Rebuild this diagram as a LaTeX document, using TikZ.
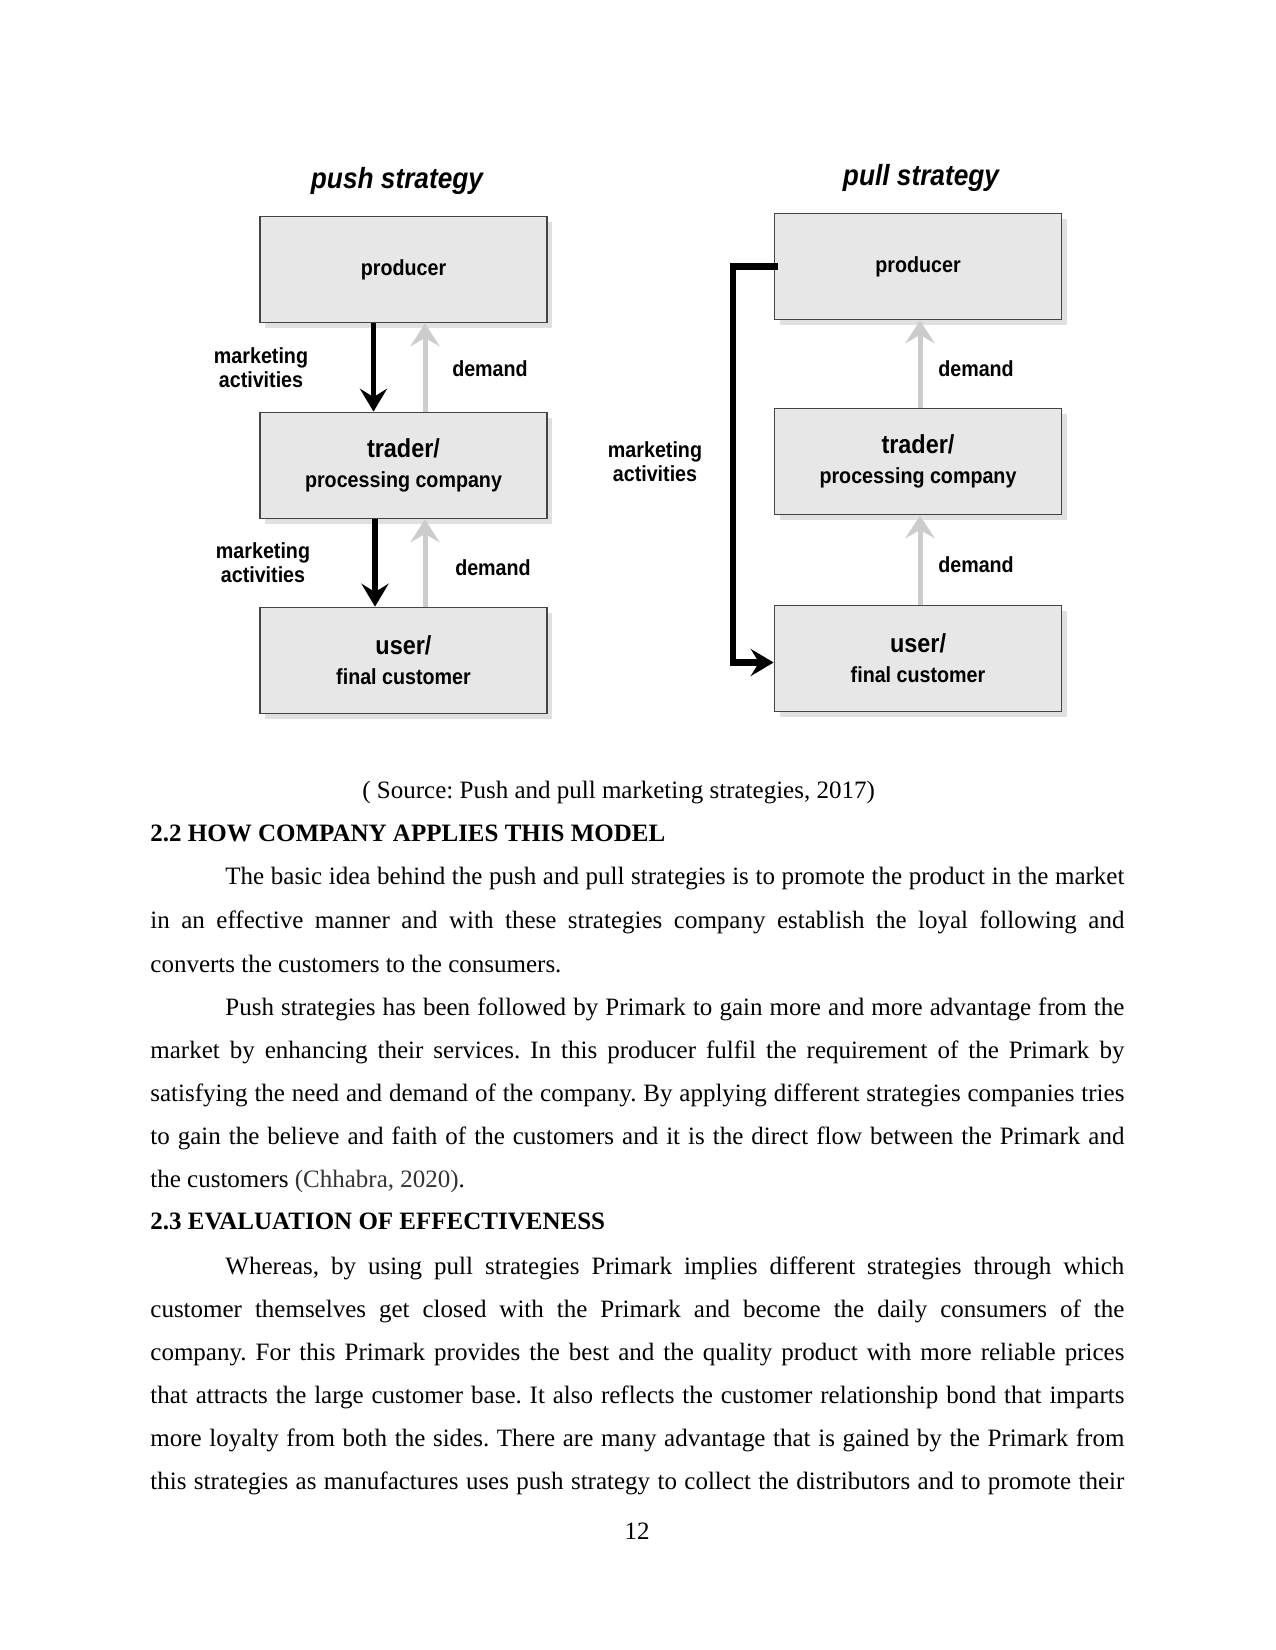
\documentclass[tikz,border=0pt]{standalone}
\usepackage{fontspec}
\setmainfont{Liberation Serif}
\newfontfamily\diagfont[FakeStretch=0.9]{Liberation Sans}
\usetikzlibrary{arrows.meta,shadows,calc}
\frenchspacing

\begin{document}
\begin{tikzpicture}[x=0.48pt,y=0.48pt,yscale=-1,
	stratbox/.style={draw={rgb, 255:red, 68; green, 68; blue, 68 }, line width=0.8pt, fill={rgb, 255:red, 231; green, 231; blue, 231 }, minimum width=137.8pt, minimum height=50.9pt, inner sep=0pt, align=center, font=\diagfont\bfseries\fontsize{10.5}{14.5}\selectfont, drop shadow={shadow xshift=2.5pt, shadow yshift=-2.5pt, opacity=0.12, fill=black}},
	sidelabel/.style={align=center, inner sep=0pt, font=\diagfont\bfseries\fontsize{10.5}{11.5}\selectfont},
	stratitle/.style={inner sep=0pt, font=\diagfont\bfseries\itshape\fontsize{14}{16}\selectfont},
	pushflow/.style={line width=2.7pt, -{Stealth[length=11pt, width=13pt, inset=4pt]}},
	demandflow/.style={draw={rgb, 255:red, 204; green, 204; blue, 204 }, line width=2.4pt, -{Stealth[length=11pt, width=14pt, inset=4pt]}},
	bodytext/.style={anchor=base west, inner sep=0pt, font=\fontsize{12}{14}\selectfont},
	headtext/.style={anchor=base west, inner sep=0pt, font=\bfseries\fontsize{12}{14}\selectfont}]
				%Page
				\path [fill=white] (0,0) rectangle (1275,1650);
				\useasboundingbox (0,0) rectangle (1275,1650);
				
				%Titles
				\node [stratitle] (pushtitle) at (397,181) {push strategy};
				\node [stratitle] (pulltitle) at (921,178) {pull strategy};
				
				%Shape: Push boxes
				\node [stratbox] (pushprod) at (403.5,269.5) {producer};
				\node [stratbox] (pushtrad) at (403.5,465.5) {{\fontsize{12.5}{14.5}\selectfont trader/}\\processing company};
				\node [stratbox] (pushuser) at (403.5,660.5) {{\fontsize{12.5}{14.5}\selectfont user/}\\final customer};
				
				%Shape: Pull boxes
				\node [stratbox] (pullprod) at (918,266.5) {producer};
				\node [stratbox] (pulltrad) at (918,461.5) {{\fontsize{12.5}{14.5}\selectfont trader/}\\processing company};
				\node [stratbox] (pulluser) at (918,658.5) {{\fontsize{12.5}{14.5}\selectfont user/}\\final customer};
				
				%Straight Lines: push
				\draw [pushflow] ($(pushprod.south)+(-30,0)$) -- ($(pushtrad.north)+(-30,0)$);
				\draw [demandflow] ($(pushtrad.north)+(21.5,0)$) -- ($(pushprod.south)+(21.5,0)$);
				\draw [pushflow] ($(pushtrad.south)+(-28.5,0)$) -- ($(pushuser.north)+(-28.5,0)$);
				\draw [demandflow] ($(pushuser.north)+(21.5,0)$) -- ($(pushtrad.south)+(21.5,0)$);
				
				%Straight Lines: pull
				\draw [demandflow] ($(pulltrad.north)+(2,0)$) -- ($(pullprod.south)+(2,0)$);
				\draw [demandflow] ($(pulluser.north)+(2,0)$) -- ($(pulltrad.south)+(2,0)$);
				\draw [pushflow, line width=2.9pt] ($(pullprod.west)+(4,0)$) -- ++(-45,0) |- ($(pulluser.west)+(0,4)$);
				
				%Labels
				\node [sidelabel] (pushmkt1) at (261,368) {marketing\\activities};
				\node [sidelabel] (pushmkt2) at (263,563) {marketing\\activities};
				\node [sidelabel] (pushdem1) at (490,369) {demand};
				\node [sidelabel] (pushdem2) at (493,568) {demand};
				\node [sidelabel] (pullmkt) at (655,462) {marketing\\activities};
				\node [sidelabel] (pulldem1) at (976,369) {demand};
				\node [sidelabel] (pulldem2) at (976,565) {demand};
				
				%Text
				\node [bodytext] (source) at (362,798) {( Source: Push and pull marketing strategies, 2017)};
				\node [headtext] (head22) at (150,841) {2.2 HOW COMPANY APPLIES THIS MODEL};
				\node [bodytext] (l1) at (225,884) {\makebox[431.5pt][s]{The basic idea behind the push and pull strategies is to promote the product in the market}};
				\node [bodytext] (l2) at (150,928) {\makebox[467.5pt][s]{in an effective manner and with these strategies company establish the loyal following and}};
				\node [bodytext] (l3) at (150,972) {converts the customers to the consumers.};
				\node [bodytext] (l4) at (225,1015) {\makebox[431.5pt][s]{Push strategies has been followed by Primark to gain more and more advantage from the}};
				\node [bodytext] (l5) at (150,1058) {\makebox[467.5pt][s]{market by enhancing their services. In this producer fulfil the requirement of the Primark by}};
				\node [bodytext] (l6) at (150,1101) {\makebox[467.5pt][s]{satisfying the need and demand of the company. By applying different strategies companies tries}};
				\node [bodytext] (l7) at (150,1144) {\makebox[467.5pt][s]{to gain the believe and faith of the customers and it is the direct flow between the Primark and}};
				\node [bodytext] (l8) at (150,1187) {the customers {\color{black!80}(Chhabra, 2020)}.};
				\node [headtext] (head23) at (150,1229) {2.3 EVALUATION OF EFFECTIVENESS};
				\node [bodytext] (l9) at (225,1274) {\makebox[431.5pt][s]{Whereas, by using pull strategies Primark implies different strategies through which}};
				\node [bodytext] (l10) at (150,1317) {\makebox[467.5pt][s]{customer themselves get closed with the Primark and become the daily consumers of the}};
				\node [bodytext] (l11) at (150,1360) {\makebox[467.5pt][s]{company. For this Primark provides the best and the quality product with more reliable prices}};
				\node [bodytext] (l12) at (150,1403) {\makebox[467.5pt][s]{that attracts the large customer base. It also reflects the customer relationship bond that imparts}};
				\node [bodytext] (l13) at (150,1446) {\makebox[467.5pt][s]{more loyalty from both the sides. There are many advantage that is gained by the Primark from}};
				\node [bodytext] (l14) at (150,1489) {\makebox[467.5pt][s]{this strategies as manufactures uses push strategy to collect the distributors and to promote their}};
				\node [bodytext, anchor=base] (pagenum) at (637,1539) {12};
			\end{tikzpicture}
\end{document}
